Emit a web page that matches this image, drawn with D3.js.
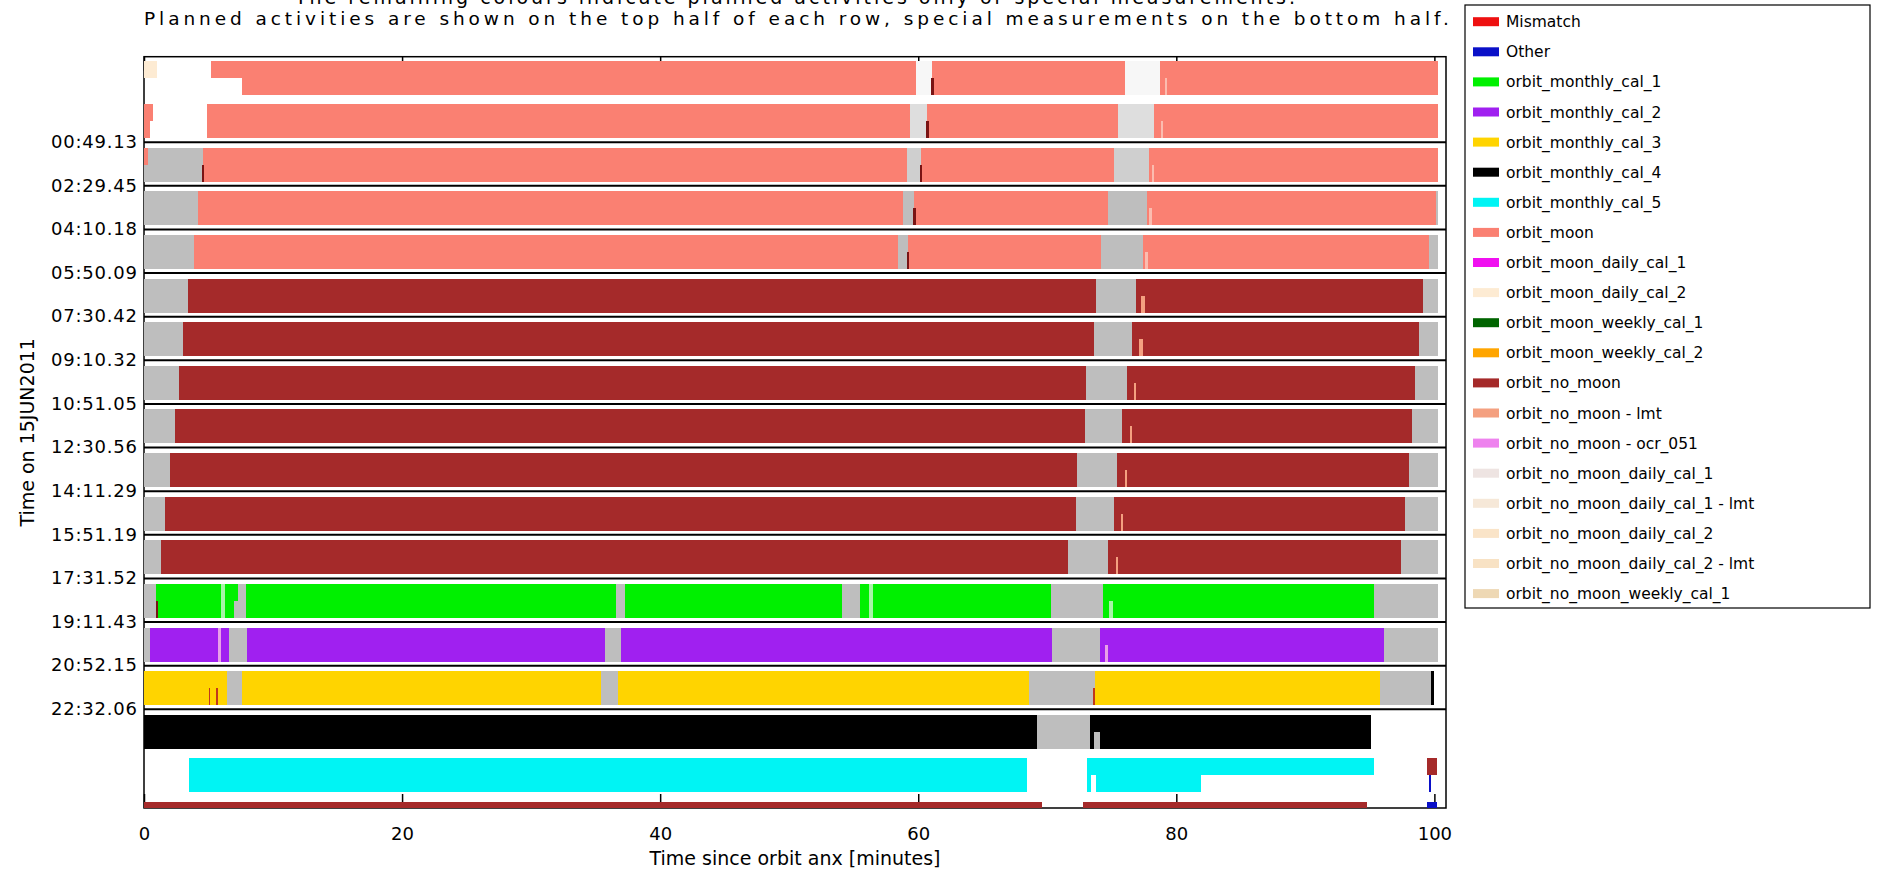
<!DOCTYPE html>
<html><head><meta charset="utf-8">
<script src="https://cdn.jsdelivr.net/npm/d3@7"></script>
<style>
body{margin:0;background:#fff}
svg{display:block}
text{font-family:"DejaVu Sans",sans-serif;fill:#000}
</style>
</head><body>
<svg id="c" width="1883" height="871"></svg>
<script>
// ---------- data ----------
const titleLines = [
  "The remaining colours indicate planned activities only or special measurements.",
  "Planned activities are shown on the top half of each row, special measurements on the bottom half."
];
const yTitle = "Time on 15JUN2011";
const xTitle = "Time since orbit anx [minutes]";
const timeLabels = ["00:49.13","02:29.45","04:10.18","05:50.09","07:30.42","09:10.32","10:51.05",
  "12:30.56","14:11.29","15:51.19","17:31.52","19:11.43","20:52.15","22:32.06"];
const xTicks = [0,20,40,60,80,100];

const legendNames = ["Mismatch","Other","orbit_monthly_cal_1","orbit_monthly_cal_2","orbit_monthly_cal_3",
  "orbit_monthly_cal_4","orbit_monthly_cal_5","orbit_moon","orbit_moon_daily_cal_1","orbit_moon_daily_cal_2",
  "orbit_moon_weekly_cal_1","orbit_moon_weekly_cal_2","orbit_no_moon","orbit_no_moon - lmt","orbit_no_moon - ocr_051",
  "orbit_no_moon_daily_cal_1","orbit_no_moon_daily_cal_1 - lmt","orbit_no_moon_daily_cal_2",
  "orbit_no_moon_daily_cal_2 - lmt","orbit_no_moon_weekly_cal_1"];
const legendColors = ["#ee1010","#0a10c8","#00f000","#a020f0","#ffd400","#000000","#00f4f4","#fa8072",
  "#f010f0","#fdebd3","#006400","#ffa500","#a52a2a","#f4a080","#ee82ee","#eee4e2","#f6e8d8","#fae4c8",
  "#f8e2c4","#eed8b4"];
// helper (non-legend) shades seen in the picture
const otherNames  = ["idle","idle_light","idle_pale","idle_mid","mark","lmark","rmark","lgreen","lviolet"];
const otherColors = ["#bebebe","#dedede","#f7f7f7","#cfcfcf","#7a1414","#fbbcaf","#c0381c","#a8f4a8","#e8a0e8"];

// segments: [row, half ('t' top=planned, 'l' bottom=special, 'b' both), start min, end min, category]
const segments = [
  // row 0
  [0,'t',0,1.0,"orbit_moon_daily_cal_2"],[0,'t',5.2,59.8,"orbit_moon"],[0,'l',7.6,59.8,"orbit_moon"],
  [0,'b',59.8,61.1,"idle_pale"],[0,'b',61.1,76.0,"orbit_moon"],[0,'b',76.0,78.7,"idle_pale"],
  [0,'b',78.7,100.3,"orbit_moon"],[0,'l',61.0,61.2,"mark"],[0,'l',79.1,79.3,"lmark"],
  // row 1
  [1,'t',0,0.7,"orbit_moon"],[1,'l',0,0.5,"orbit_moon"],[1,'b',4.9,59.4,"orbit_moon"],
  [1,'b',59.4,60.7,"idle_light"],[1,'b',60.7,75.5,"orbit_moon"],[1,'b',75.5,78.3,"idle_light"],
  [1,'b',78.3,100.3,"orbit_moon"],[1,'l',60.6,60.8,"mark"],[1,'l',78.8,79.0,"lmark"],
  // row 2
  [2,'b',0,4.6,"idle"],[2,'t',0,0.3,"orbit_moon"],[2,'b',4.6,59.1,"orbit_moon"],[2,'b',59.1,60.2,"idle_mid"],
  [2,'b',60.2,75.2,"orbit_moon"],[2,'b',75.2,77.9,"idle_mid"],[2,'b',77.9,100.3,"orbit_moon"],
  [2,'l',4.5,4.65,"mark"],[2,'l',60.1,60.3,"mark"],[2,'l',78.1,78.3,"lmark"],
  // row 3
  [3,'b',0,4.2,"idle"],[3,'b',4.2,58.8,"orbit_moon"],[3,'b',58.8,59.7,"idle"],[3,'b',59.7,74.7,"orbit_moon"],
  [3,'b',74.7,77.7,"idle"],[3,'b',77.7,100.1,"orbit_moon"],[3,'b',100.1,100.3,"idle"],
  [3,'l',59.6,59.8,"mark"],[3,'l',77.9,78.1,"lmark"],
  // row 4
  [4,'b',0,3.9,"idle"],[4,'b',3.9,58.4,"orbit_moon"],[4,'b',58.4,59.2,"idle"],[4,'b',59.2,74.2,"orbit_moon"],
  [4,'b',74.2,77.4,"idle"],[4,'b',77.4,99.6,"orbit_moon"],[4,'b',99.6,100.3,"idle"],
  [4,'l',59.1,59.3,"mark"],[4,'l',77.6,77.8,"lmark"],
  // rows 5-11 (orbit_no_moon)
  [5,'b',0,3.4,"idle"],[5,'b',3.4,73.8,"orbit_no_moon"],[5,'b',73.8,76.9,"idle"],[5,'b',76.9,99.1,"orbit_no_moon"],[5,'b',99.1,100.3,"idle"],[5,'l',77.3,77.6,"orbit_no_moon - lmt"],
  [6,'b',0,3.0,"idle"],[6,'b',3.0,73.6,"orbit_no_moon"],[6,'b',73.6,76.6,"idle"],[6,'b',76.6,98.8,"orbit_no_moon"],[6,'b',98.8,100.3,"idle"],[6,'l',77.1,77.4,"orbit_no_moon - lmt"],
  [7,'b',0,2.7,"idle"],[7,'b',2.7,73.0,"orbit_no_moon"],[7,'b',73.0,76.2,"idle"],[7,'b',76.2,98.5,"orbit_no_moon"],[7,'b',98.5,100.3,"idle"],[7,'l',76.7,76.9,"orbit_no_moon - lmt"],
  [8,'b',0,2.4,"idle"],[8,'b',2.4,72.9,"orbit_no_moon"],[8,'b',72.9,75.8,"idle"],[8,'b',75.8,98.3,"orbit_no_moon"],[8,'b',98.3,100.3,"idle"],[8,'l',76.4,76.6,"orbit_no_moon - lmt"],
  [9,'b',0,2.0,"idle"],[9,'b',2.0,72.3,"orbit_no_moon"],[9,'b',72.3,75.4,"idle"],[9,'b',75.4,98.0,"orbit_no_moon"],[9,'b',98.0,100.3,"idle"],[9,'l',76.0,76.2,"orbit_no_moon - lmt"],
  [10,'b',0,1.6,"idle"],[10,'b',1.6,72.2,"orbit_no_moon"],[10,'b',72.2,75.2,"idle"],[10,'b',75.2,97.7,"orbit_no_moon"],[10,'b',97.7,100.3,"idle"],[10,'l',75.7,75.9,"orbit_no_moon - lmt"],
  [11,'b',0,1.3,"idle"],[11,'b',1.3,71.6,"orbit_no_moon"],[11,'b',71.6,74.7,"idle"],[11,'b',74.7,97.4,"orbit_no_moon"],[11,'b',97.4,100.3,"idle"],[11,'l',75.3,75.5,"orbit_no_moon - lmt"],
  // row 12 (monthly cal 1)
  [12,'b',0,0.95,"idle"],[12,'b',0.95,6.0,"orbit_monthly_cal_1"],[12,'b',6.0,6.3,"lgreen"],[12,'b',6.3,7.0,"orbit_monthly_cal_1"],
  [12,'l',7.0,7.9,"idle"],[12,'t',7.0,7.25,"orbit_monthly_cal_1"],[12,'t',7.25,7.9,"idle"],[12,'b',7.9,36.6,"orbit_monthly_cal_1"],
  [12,'b',36.6,37.3,"idle"],[12,'b',37.3,54.1,"orbit_monthly_cal_1"],[12,'b',54.1,55.5,"idle"],[12,'b',55.5,56.2,"orbit_monthly_cal_1"],
  [12,'b',56.2,56.5,"lgreen"],[12,'b',56.5,70.3,"orbit_monthly_cal_1"],[12,'b',70.3,74.3,"idle"],[12,'b',74.3,95.3,"orbit_monthly_cal_1"],
  [12,'b',95.3,100.3,"idle"],[12,'l',0.9,1.05,"mark"],[12,'l',74.8,75.1,"lgreen"],
  // row 13 (monthly cal 2)
  [13,'b',0,0.5,"idle"],[13,'b',0.5,5.7,"orbit_monthly_cal_2"],[13,'b',5.7,6.0,"lviolet"],[13,'b',6.0,6.6,"orbit_monthly_cal_2"],
  [13,'b',6.6,8.0,"idle"],[13,'b',8.0,35.7,"orbit_monthly_cal_2"],[13,'b',35.7,37.0,"idle"],[13,'b',37.0,70.4,"orbit_monthly_cal_2"],
  [13,'b',70.4,74.1,"idle"],[13,'b',74.1,96.1,"orbit_monthly_cal_2"],[13,'b',96.1,100.3,"idle"],[13,'l',74.5,74.7,"lviolet"],
  // row 14 (monthly cal 3)
  [14,'b',0,6.4,"orbit_monthly_cal_3"],[14,'b',6.4,7.6,"idle"],[14,'b',7.6,35.4,"orbit_monthly_cal_3"],[14,'b',35.4,36.7,"idle"],
  [14,'b',36.7,68.6,"orbit_monthly_cal_3"],[14,'b',68.6,73.7,"idle"],[14,'b',73.7,95.8,"orbit_monthly_cal_3"],[14,'b',95.8,99.7,"idle"],
  [14,'b',99.7,99.95,"orbit_monthly_cal_4"],[14,'l',5.0,5.15,"rmark"],[14,'l',5.6,5.75,"rmark"],[14,'l',73.55,73.7,"rmark"],
  // row 15 (monthly cal 4)
  [15,'b',0,69.2,"orbit_monthly_cal_4"],[15,'b',69.2,73.3,"idle"],[15,'t',73.3,95.1,"orbit_monthly_cal_4"],
  [15,'l',73.3,73.6,"orbit_monthly_cal_4"],[15,'l',73.6,74.1,"idle"],[15,'l',74.1,95.1,"orbit_monthly_cal_4"],
  // row 16 (monthly cal 5)
  [16,'b',3.5,68.4,"orbit_monthly_cal_5"],[16,'t',73.1,95.3,"orbit_monthly_cal_5"],[16,'l',73.1,73.4,"orbit_monthly_cal_5"],
  [16,'l',73.8,81.9,"orbit_monthly_cal_5"],[16,'t',99.4,100.2,"orbit_no_moon"],[16,'l',99.6,99.75,"Other"],
  // row 17 (cut by the bottom axis)
  [17,'t',0,69.6,"orbit_no_moon"],[17,'t',72.8,94.8,"orbit_no_moon"],[17,'t',99.4,100.2,"Other"]
];

// ---------- drawing ----------
const plotL = 144, plotR = 1446, plotT = 56.7, plotB = 808;
const svg = d3.select("#c");
const x = d3.scaleLinear().domain([0, 100.9]).range([plotL, plotR]);
const rowTop = d3.scaleLinear().domain([0, 1]).range([54.5, 54.5 + 43.62]);
const barOff = 6, barH = 34;
const color = d3.scaleOrdinal().domain(legendNames.concat(otherNames)).range(legendColors.concat(otherColors));

// titles (the first line is clipped by the top edge, as in the original)
svg.append("text").attr("x", 295).attr("y", 3.5).attr("font-size", 19)
  .attr("textLength", 1000).attr("lengthAdjust", "spacing").text(titleLines[0]);
svg.append("text").attr("x", 144).attr("y", 25).attr("font-size", 18.5)
  .attr("textLength", 1305).attr("lengthAdjust", "spacing").text(titleLines[1]);

// frame
svg.append("rect").attr("x", plotL).attr("y", plotT).attr("width", plotR - plotL).attr("height", plotB - plotT)
  .attr("fill", "none").attr("stroke", "#000").attr("stroke-width", 1.5);

// x axes
const gB = svg.append("g").attr("transform", `translate(0,${plotB})`)
  .call(d3.axisBottom(x).tickValues(xTicks).tickSize(-14).tickSizeOuter(0).tickPadding(19));
gB.select(".domain").remove();
gB.selectAll("line").attr("stroke", "#000").attr("stroke-width", 1.5);
gB.selectAll("text").attr("font-size", 18).attr("font-family", "DejaVu Sans");
const gT = svg.append("g").attr("transform", `translate(0,${plotT})`)
  .call(d3.axisTop(x).tickValues(xTicks).tickSize(-14).tickSizeOuter(0).tickFormat(""));
gT.select(".domain").remove();
gT.selectAll("line").attr("stroke", "#000").attr("stroke-width", 1.5);

// bars
svg.append("clipPath").attr("id", "clip").append("rect")
  .attr("x", plotL).attr("y", plotT).attr("width", plotR - plotL).attr("height", plotB - plotT);
const gBars = svg.append("g").attr("clip-path", "url(#clip)");
gBars.selectAll("rect").data(segments).join("rect")
  .attr("x", d => x(d[2]))
  .attr("width", d => Math.max(1.2, x(d[3]) - x(d[2])))
  .attr("y", d => rowTop(d[0]) + barOff + (d[1] === 'l' ? barH / 2 : 0))
  .attr("height", d => d[1] === 'b' ? barH : barH / 2)
  .attr("fill", d => color(d[4]))
  .attr("shape-rendering", "crispEdges");

// y axis: row boundaries with labels
const boundaries = d3.range(2, 2 + timeLabels.length);
const gL = svg.append("g").attr("transform", `translate(${plotL},0)`)
  .call(d3.axisLeft(rowTop).tickValues(boundaries).tickSize(-(plotR - plotL)).tickSizeOuter(0)
    .tickPadding(7).tickFormat(i => timeLabels[i - 2]));
gL.select(".domain").remove();
gL.selectAll("line").attr("stroke", "#000").attr("stroke-width", 2);
gL.selectAll("text").attr("font-size", 18).attr("font-family", "DejaVu Sans")
  .attr("textLength", 86).attr("lengthAdjust", "spacing");

// axis titles
svg.append("text").attr("transform", `translate(34,${(plotT + plotB) / 2}) rotate(-90)`)
  .attr("text-anchor", "middle").attr("font-size", 19).text(yTitle);
svg.append("text").attr("x", (plotL + plotR) / 2).attr("y", 865).attr("text-anchor", "middle")
  .attr("font-size", 19).text(xTitle);

// legend
const lg = svg.append("g");
lg.append("rect").attr("x", 1465).attr("y", 5).attr("width", 405).attr("height", 603)
  .attr("fill", "#fff").attr("stroke", "#000").attr("stroke-width", 1.2);
const item = lg.selectAll("g.it").data(legendNames).join("g").attr("class", "it")
  .attr("transform", (d, i) => `translate(1473,${21.7 + i * 30.1})`);
item.append("rect").attr("x", 0).attr("y", -4.5).attr("width", 26).attr("height", 9)
  .attr("fill", d => color(d));
item.append("text").attr("x", 33).attr("y", 5.5).attr("font-size", 15.5).text(d => d);
</script>
</body></html>
